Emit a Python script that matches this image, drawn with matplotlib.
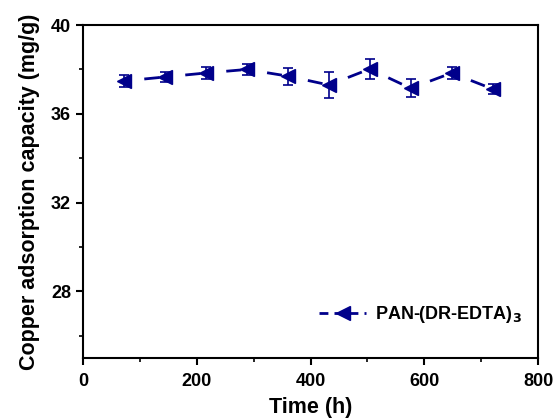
import matplotlib
matplotlib.use('Agg')
import matplotlib.pyplot as plt
from matplotlib.lines import Line2D
from matplotlib.ticker import MultipleLocator

# data
time_h = [72, 144, 216, 288, 360, 432, 504, 576, 648, 720]
capacity = [37.48, 37.66, 37.84, 38.0, 37.7, 37.3, 38.02, 37.15, 37.84, 37.12]
err = [0.25, 0.22, 0.25, 0.25, 0.38, 0.58, 0.47, 0.40, 0.25, 0.22]

plt.rcParams['font.family'] = 'Liberation Sans'
plt.rcParams['font.weight'] = 'bold'

fig = plt.figure(figsize=(5.56, 4.18), dpi=100)
ax = fig.add_axes([0.149, 0.144, 0.819, 0.796])

color = '#00008B'
# one dash between each pair of points, sitting just before the next marker
for i in range(len(time_h) - 1):
    ax.plot(time_h[i:i + 2], capacity[i:i + 2], color=color, linewidth=2,
            linestyle=(9, (5.4, 11)))
ax.errorbar(time_h, capacity, yerr=err, fmt='none', ecolor=color, capsize=3.5,
            elinewidth=1.2, capthick=1.2)
ax.plot(time_h, capacity, linestyle='none', marker='<', markersize=10, color=color)

ax.set_xlim(0, 800)
ax.set_ylim(25, 40)
ax.xaxis.set_major_locator(MultipleLocator(200))
ax.xaxis.set_minor_locator(MultipleLocator(100))
ax.set_yticks([28, 32, 36, 40])
ax.yaxis.set_minor_locator(MultipleLocator(2))

for side in ax.spines.values():
    side.set_linewidth(1.5)
ax.tick_params(which='major', direction='out', length=5, width=1.5, labelsize=13)
ax.tick_params(axis='x', which='major', pad=6)
ax.tick_params(which='minor', direction='out', length=3, width=1.2)
for lab in ax.get_xticklabels() + ax.get_yticklabels():
    lab.set_fontweight('bold')

ax.set_xlabel('Time (h)', fontsize=15.5, fontweight='bold', labelpad=5)
ax.set_ylabel('Copper adsorption capacity (mg/g)', fontsize=15.5, fontweight='bold', labelpad=8)

handle = Line2D([], [], color=color, linewidth=2, linestyle=(0, (3.2, 2.2)),
                marker='<', markersize=10)
leg = ax.legend([handle], ['PAN-(DR-EDTA)$_\\mathbf{3}$'], loc='lower right',
                frameon=False, fontsize=13, handlelength=2.6, handletextpad=0.5,
                bbox_to_anchor=(1.0, 0.05))
for t in leg.get_texts():
    t.set_fontweight('bold')

fig.savefig('out.png', dpi=100)
